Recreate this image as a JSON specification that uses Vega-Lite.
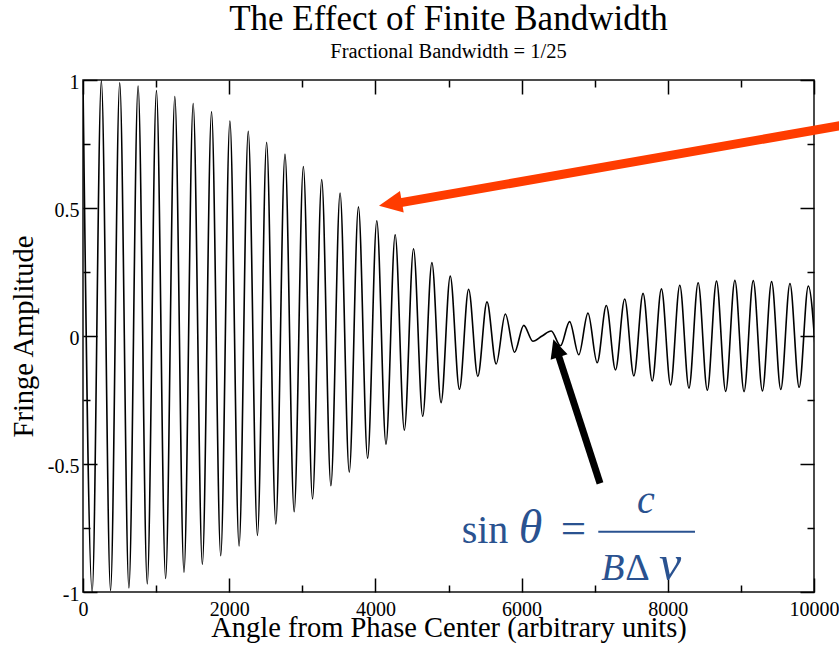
{
  "$schema": "https://vega.github.io/schema/vega-lite/v6.json",
  "autosize": "none",
  "width": 731,
  "height": 512,
  "padding": {"left": 83, "top": 80, "right": 25, "bottom": 55},
  "background": "white",
  "config": {
    "font": "Liberation Serif",
    "view": {"stroke": "#111111", "strokeWidth": 1.5},
    "axis": {
      "domain": false,
      "grid": false,
      "labelFont": "Liberation Serif",
      "labelFontSize": 20,
      "labelColor": "black",
      "tickColor": "black",
      "tickWidth": 1.5,
      "titleFont": "Liberation Serif",
      "titleFontSize": 28.5,
      "titleFontWeight": "normal",
      "titleColor": "black",
      "labelFlush": false,
      "labelOverlap": false,
      "labelBound": false
    }
  },
  "title": {
    "text": "The Effect of Finite Bandwidth",
    "subtitle": "Fractional Bandwidth = 1/25",
    "anchor": "middle",
    "frame": "group",
    "font": "Liberation Serif",
    "fontSize": 35,
    "fontWeight": "normal",
    "color": "black",
    "subtitleFont": "Liberation Serif",
    "subtitleFontSize": 20.5,
    "subtitleColor": "black",
    "subtitlePadding": 5,
    "offset": 10
  },
  "datasets": {
    "fringe": [
      {"angle": 0, "amp": 1},
      {"angle": 125.6, "amp": -0.99934},
      {"angle": 251.2, "amp": 0.99737},
      {"angle": 376.8, "amp": -0.99408},
      {"angle": 502.4, "amp": 0.98951},
      {"angle": 628, "amp": -0.98363},
      {"angle": 753.6, "amp": 0.97648},
      {"angle": 879.2, "amp": -0.96807},
      {"angle": 1004.8, "amp": 0.95842},
      {"angle": 1130.4, "amp": -0.94755},
      {"angle": 1256, "amp": 0.93549},
      {"angle": 1381.6, "amp": -0.92227},
      {"angle": 1507.2, "amp": 0.90791},
      {"angle": 1632.8, "amp": -0.89245},
      {"angle": 1758.4, "amp": 0.87594},
      {"angle": 1884, "amp": -0.85839},
      {"angle": 2009.6, "amp": 0.83987},
      {"angle": 2135.2, "amp": -0.82041},
      {"angle": 2260.8, "amp": 0.80005},
      {"angle": 2386.4, "amp": -0.77884},
      {"angle": 2512, "amp": 0.75683},
      {"angle": 2637.6, "amp": -0.73406},
      {"angle": 2763.2, "amp": 0.71061},
      {"angle": 2888.8, "amp": -0.68652},
      {"angle": 3014.4, "amp": 0.66184},
      {"angle": 3140, "amp": -0.63662},
      {"angle": 3265.6, "amp": 0.61093},
      {"angle": 3391.2, "amp": -0.58482},
      {"angle": 3516.8, "amp": 0.55834},
      {"angle": 3642.4, "amp": -0.53157},
      {"angle": 3768, "amp": 0.50455},
      {"angle": 3893.6, "amp": -0.47735},
      {"angle": 4019.2, "amp": 0.45002},
      {"angle": 4144.8, "amp": -0.42263},
      {"angle": 4270.4, "amp": 0.39523},
      {"angle": 4396, "amp": -0.36788},
      {"angle": 4521.6, "amp": 0.34064},
      {"angle": 4647.2, "amp": -0.31357},
      {"angle": 4772.8, "amp": 0.28671},
      {"angle": 4898.4, "amp": -0.26013},
      {"angle": 5024, "amp": 0.23387},
      {"angle": 5149.6, "amp": -0.208},
      {"angle": 5275.2, "amp": 0.18256},
      {"angle": 5400.8, "amp": -0.15759},
      {"angle": 5526.4, "amp": 0.13316},
      {"angle": 5652, "amp": -0.10929},
      {"angle": 5777.6, "amp": 0.08604},
      {"angle": 5903.2, "amp": -0.06345},
      {"angle": 6028.8, "amp": 0.04156},
      {"angle": 6154.4, "amp": -0.02039},
      {"angle": 6280, "amp": 0},
      {"angle": 6405.6, "amp": 0.0196},
      {"angle": 6531.2, "amp": -0.03836},
      {"angle": 6656.8, "amp": 0.05627},
      {"angle": 6782.4, "amp": -0.0733},
      {"angle": 6908, "amp": 0.08942},
      {"angle": 7033.6, "amp": -0.10462},
      {"angle": 7159.2, "amp": 0.11888},
      {"angle": 7284.8, "amp": -0.1322},
      {"angle": 7410.4, "amp": 0.14454},
      {"angle": 7536, "amp": -0.15592},
      {"angle": 7661.6, "amp": 0.16631},
      {"angle": 7787.2, "amp": -0.17572},
      {"angle": 7912.8, "amp": 0.18416},
      {"angle": 8038.4, "amp": -0.19161},
      {"angle": 8164, "amp": 0.19809},
      {"angle": 8289.6, "amp": -0.2036},
      {"angle": 8415.2, "amp": 0.20816},
      {"angle": 8540.8, "amp": -0.21178},
      {"angle": 8666.4, "amp": 0.21446},
      {"angle": 8792, "amp": -0.21624},
      {"angle": 8917.6, "amp": 0.21712},
      {"angle": 9043.2, "amp": -0.21713},
      {"angle": 9168.8, "amp": 0.2163},
      {"angle": 9294.4, "amp": -0.21465},
      {"angle": 9420, "amp": 0.21221},
      {"angle": 9545.6, "amp": -0.209},
      {"angle": 9671.2, "amp": 0.20506},
      {"angle": 9796.8, "amp": -0.20043},
      {"angle": 9922.4, "amp": 0.19513},
      {"angle": 10048, "amp": -0.18921}
    ],
    "note": [{}]
  },
  "layer": [
    {
      "data": {"name": "fringe"},
      "mark": {"type": "line", "interpolate": "monotone", "color": "black", "strokeWidth": 1.6, "clip": true},
      "encoding": {
        "x": {
          "field": "angle",
          "type": "quantitative",
          "scale": {"domain": [0, 10000], "nice": false, "zero": false},
          "axis": {
            "orient": "bottom",
            "title": "Angle from Phase Center (arbitrary units)",
            "values": [0, 1000, 2000, 3000, 4000, 5000, 6000, 7000, 8000, 9000, 10000],
            "labelExpr": "datum.value % 2000 == 0 ? toString(datum.value) : ''",
            "tickSize": {"condition": {"test": "datum.value % 2000 == 0", "value": -14}, "value": -7},
            "labelPadding": 21,
            "titleBaseline": "alphabetic",
            "titlePadding": 10
          }
        },
        "y": {
          "field": "amp",
          "type": "quantitative",
          "scale": {"domain": [-1, 1], "nice": false, "zero": false},
          "axis": {
            "orient": "left",
            "title": "Fringe Amplitude",
            "values": [-1, -0.75, -0.5, -0.25, 0, 0.25, 0.5, 0.75, 1],
            "labelExpr": "datum.value % 0.5 == 0 ? toString(datum.value) : ''",
            "tickSize": {"condition": {"test": "datum.value % 0.5 == 0", "value": -14}, "value": -7},
            "labelPadding": 18,
            "labelBaseline": "middle",
            "labelOffset": 2,
            "titleBaseline": "alphabetic",
            "titlePadding": 15
          }
        }
      }
    },
    {
      "data": {"name": "fringe"},
      "mark": {"type": "point", "opacity": 0},
      "encoding": {
        "x": {
          "field": "angle",
          "type": "quantitative",
          "axis": {
            "orient": "top",
            "title": null,
            "labels": false,
            "values": [0, 1000, 2000, 3000, 4000, 5000, 6000, 7000, 8000, 9000, 10000],
            "tickSize": {"condition": {"test": "datum.value % 2000 == 0", "value": -14}, "value": -7}
          }
        },
        "y": {
          "field": "amp",
          "type": "quantitative",
          "axis": {
            "orient": "right",
            "title": null,
            "labels": false,
            "values": [-1, -0.75, -0.5, -0.25, 0, 0.25, 0.5, 0.75, 1],
            "tickSize": {"condition": {"test": "datum.value % 0.5 == 0", "value": -14}, "value": -7}
          }
        }
      }
    },
    {
      "data": {"name": "note"},
      "mark": {"type": "rule", "color": "#ff3c00", "strokeWidth": 9, "strokeCap": "butt"},
      "encoding": {
        "x": {"datum": 10629, "axis": null},
        "y": {"datum": 0.835, "axis": null},
        "x2": {"datum": 4309},
        "y2": {"datum": 0.519}
      }
    },
    {
      "data": {"name": "note"},
      "mark": {"type": "point", "shape": "M0,0 L-2,-0.95 L-2,0.95 Z", "filled": true, "color": "#ff3c00", "opacity": 1, "size": 538, "angle": 170.2, "strokeWidth": 0},
      "encoding": {
        "x": {"datum": 4049, "axis": null},
        "y": {"datum": 0.509, "axis": null}
      }
    },
    {
      "data": {"name": "note"},
      "mark": {"type": "rule", "color": "black", "strokeWidth": 7, "strokeCap": "butt"},
      "encoding": {
        "x": {"datum": 7073, "axis": null},
        "y": {"datum": -0.5754, "axis": null},
        "x2": {"datum": 6498},
        "y2": {"datum": -0.0703}
      }
    },
    {
      "data": {"name": "note"},
      "mark": {"type": "point", "shape": "M0,0 L-2,-0.95 L-2,0.95 Z", "filled": true, "color": "black", "opacity": 1, "size": 350, "angle": 252, "strokeWidth": 0},
      "encoding": {
        "x": {"datum": 6434, "axis": null},
        "y": {"datum": -0.0129, "axis": null}
      }
    },
    {
      "data": {"name": "note"},
      "mark": {"type": "text", "text": "sin", "font": "Liberation Serif", "fontSize": 40, "color": "#2a5290", "align": "center", "baseline": "alphabetic"},
      "encoding": {
        "x": {"datum": 5499, "axis": null},
        "y": {"datum": -0.8074, "axis": null}
      }
    },
    {
      "data": {"name": "note"},
      "mark": {"type": "text", "text": "θ", "font": "Liberation Serif", "fontSize": 48, "fontStyle": "italic", "color": "#2a5290", "align": "center", "baseline": "alphabetic"},
      "encoding": {
        "x": {"datum": 6122, "axis": null},
        "y": {"datum": -0.8074, "axis": null}
      }
    },
    {
      "data": {"name": "note"},
      "mark": {"type": "text", "text": "=", "font": "Liberation Serif", "fontSize": 45, "color": "#2a5290", "align": "center", "baseline": "alphabetic"},
      "encoding": {
        "x": {"datum": 6710, "axis": null},
        "y": {"datum": -0.8074, "axis": null}
      }
    },
    {
      "data": {"name": "note"},
      "mark": {"type": "rule", "color": "#2a5290", "strokeWidth": 2},
      "encoding": {
        "x": {"datum": 7049, "axis": null},
        "y": {"datum": -0.7645, "axis": null},
        "x2": {"datum": 8372},
        "y2": {"datum": -0.7645}
      }
    },
    {
      "data": {"name": "note"},
      "mark": {"type": "text", "text": "c", "font": "Liberation Serif", "fontSize": 40, "fontStyle": "italic", "color": "#2a5290", "align": "center", "baseline": "alphabetic"},
      "encoding": {
        "x": {"datum": 7699, "axis": null},
        "y": {"datum": -0.6926, "axis": null}
      }
    },
    {
      "data": {"name": "note"},
      "mark": {"type": "text", "text": "B", "font": "Liberation Serif", "fontSize": 38, "fontStyle": "italic", "color": "#2a5290", "align": "center", "baseline": "alphabetic"},
      "encoding": {
        "x": {"datum": 7250, "axis": null},
        "y": {"datum": -0.9531, "axis": null}
      }
    },
    {
      "data": {"name": "note"},
      "mark": {"type": "text", "text": "Δ", "font": "Liberation Serif", "fontSize": 38, "color": "#2a5290", "align": "center", "baseline": "alphabetic"},
      "encoding": {
        "x": {"datum": 7585, "axis": null},
        "y": {"datum": -0.9531, "axis": null}
      }
    },
    {
      "data": {"name": "note"},
      "mark": {"type": "text", "text": "ν", "font": "Liberation Serif", "fontSize": 50, "fontStyle": "italic", "color": "#2a5290", "align": "center", "baseline": "alphabetic"},
      "encoding": {
        "x": {"datum": 8030, "axis": null},
        "y": {"datum": -0.9531, "axis": null}
      }
    }
  ],
  "resolve": {"axis": {"x": "independent", "y": "independent"}}
}
